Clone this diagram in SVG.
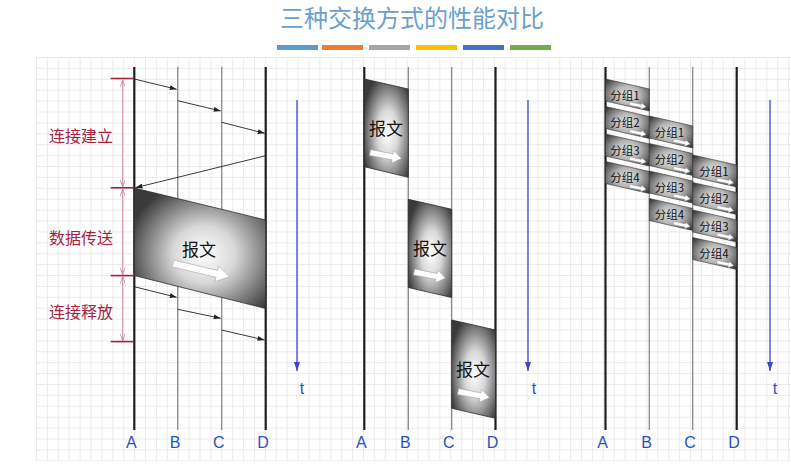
<svg xmlns="http://www.w3.org/2000/svg" width="791" height="468" viewBox="0 0 791 468">
<style>
.cjk{font-family:"Noto Sans CJK SC","Noto Sans",sans-serif}
.lat{font-family:"Liberation Sans","DejaVu Sans",sans-serif}
.red{fill:#a3233f;font-size:16px}
.lbl{fill:#2a4fc4;font-size:16px;text-anchor:middle}
.thick{stroke:#1e1e1e;stroke-width:2.2}
.thin{stroke:#8a8a8a;stroke-width:1.3}
.arr{stroke:#222;stroke-width:0.9;fill:none;marker-end:url(#ah)}
.brk{stroke:#cf8b9a;stroke-width:1;marker-start:url(#rh);marker-end:url(#rh)}
.tick{stroke:#a3233f;stroke-width:1.6}
.tax{stroke:#3f45c8;stroke-width:1.3;marker-end:url(#bh)}
.msg{fill:url(#rg);stroke:#2c2c2c;stroke-width:0.8}
.pkt{fill:url(#rg2);stroke:#333;stroke-width:0.6}
.wa{fill:#fff;stroke:#9a9a9a;stroke-width:0.5}
.mt{font-size:17px;fill:#111;text-anchor:middle}
.pt{font-size:11.5px;fill:#111;text-anchor:middle}
</style>
<defs>
<pattern id="grid" x="36" y="57" width="10.9" height="10.9" patternUnits="userSpaceOnUse">
<path d="M0,0.5 H10.9 M0.5,0 V10.9" stroke="#ebebeb" stroke-width="1" fill="none"/>
</pattern>
<radialGradient id="rg" cx="0.55" cy="0.55" r="0.62" fx="0.52" fy="0.55">
<stop offset="0" stop-color="#ffffff"/>
<stop offset="0.38" stop-color="#d8d8d8"/>
<stop offset="1" stop-color="#3a3a3a"/>
</radialGradient>
<radialGradient id="rg2" cx="0.5" cy="0.5" r="0.65">
<stop offset="0" stop-color="#e8e8e8"/>
<stop offset="0.45" stop-color="#b4b4b4"/>
<stop offset="1" stop-color="#3c3c3c"/>
</radialGradient>
<marker id="ah" viewBox="0 0 10 10" refX="10" refY="5" markerWidth="7" markerHeight="5" markerUnits="userSpaceOnUse" orient="auto" preserveAspectRatio="none">
<path d="M0,0 L10,5 L0,10 Z" fill="#222"/>
</marker>
<marker id="rh" viewBox="0 0 10 10" refX="10" refY="5" markerWidth="7" markerHeight="5" markerUnits="userSpaceOnUse" orient="auto-start-reverse" preserveAspectRatio="none">
<path d="M0,0 L10,5 L0,10" fill="none" stroke="#cf8b9a" stroke-width="1.5"/>
</marker>
<marker id="bh" viewBox="0 0 10 10" refX="10" refY="5" markerWidth="9" markerHeight="6" markerUnits="userSpaceOnUse" orient="auto" preserveAspectRatio="none">
<path d="M0,0 L10,5 L0,10 Z" fill="#3f45c8"/>
</marker>
<path id="bigArrow" d="M0,-3.5 H45 V-8 L58,0 L45,8 V3.5 H0 Z"/>
<path id="midArrow" d="M0,-3 H23 V-6.5 L32,0 L23,6.5 V3 H0 Z"/>
<path id="smArrow" d="M0,-1.6 H12 V-3.2 L17,0 L12,3.2 V1.6 H0 Z"/>
</defs>

<rect width="791" height="468" fill="#ffffff"/>
<rect x="36" y="57" width="755" height="404" fill="url(#grid)"/>

<g id="title">
<text x="412" y="27" class="cjk" font-size="24" fill="#6a9fcc" text-anchor="middle">三种交换方式的性能对比</text>
</g>
<g id="legend-bars">
<rect x="277" y="45" width="41" height="5" fill="#5b9bd5"/>
<rect x="322" y="45" width="41" height="5" fill="#ed7d31"/>
<rect x="369" y="45" width="41" height="5" fill="#a5a5a5"/>
<rect x="416" y="45" width="41" height="5" fill="#ffc000"/>
<rect x="463" y="45" width="41" height="5" fill="#4472c4"/>
<rect x="510" y="45" width="41" height="5" fill="#70ad47"/>
</g>

<!-- Circuit switching panel -->
<g id="circuit-panel">
<g id="c-A"><line x1="134.3" y1="67" x2="134.3" y2="430" class="thick"/><text x="131.3" y="448" class="lat lbl">A</text></g>
<g id="c-B"><line x1="177.7" y1="67" x2="177.7" y2="430" class="thin"/><text x="175" y="448" class="lat lbl">B</text></g>
<g id="c-C"><line x1="221.7" y1="67" x2="221.7" y2="430" class="thin"/><text x="218.7" y="448" class="lat lbl">C</text></g>
<g id="c-D"><line x1="265.7" y1="67" x2="265.7" y2="430" class="thick" stroke-width="2.5"/><text x="263" y="448" class="lat lbl">D</text></g>
<g id="c-message">
<polygon points="134.3,188 265.7,220 265.7,308.5 134.3,275.5" class="msg"/>
<text x="199" y="256" class="cjk mt">报文</text>
<use href="#bigArrow" transform="translate(173,263.5) rotate(13.3)" class="wa"/>
</g>
<g id="c-labels">
<text x="49" y="142" class="cjk red">连接建立</text>
<text x="49" y="244" class="cjk red">数据传送</text>
<text x="49" y="318" class="cjk red">连接释放</text>
</g>
<g id="c-time"><line x1="297" y1="100" x2="297" y2="371" class="tax"/><text x="302" y="394" class="lat lbl">t</text></g>
</g>

<g id="connectors">
<line x1="134.3" y1="79" x2="176.7" y2="89.3" class="arr"/>
<line x1="177.7" y1="100.7" x2="220.7" y2="111" class="arr"/>
<line x1="221.7" y1="122.3" x2="264.7" y2="133.3" class="arr"/>
<line x1="265.7" y1="155.7" x2="135.5" y2="187.7" class="arr"/>
<line x1="134.3" y1="286.7" x2="176.7" y2="297.3" class="arr"/>
<line x1="177.7" y1="309.3" x2="220.7" y2="318.3" class="arr"/>
<line x1="221.7" y1="330" x2="264.5" y2="340" class="arr"/>
<line x1="122.7" y1="80" x2="122.7" y2="187" class="brk"/>
<line x1="122.7" y1="189" x2="122.7" y2="274.5" class="brk"/>
<line x1="122.7" y1="276.5" x2="122.7" y2="340.7" class="brk"/>
<line x1="110.7" y1="78.5" x2="133.5" y2="78.5" class="tick"/>
<line x1="110.7" y1="187.8" x2="133.5" y2="187.8" class="tick"/>
<line x1="110.7" y1="275.6" x2="133.5" y2="275.6" class="tick"/>
<line x1="110.7" y1="341.6" x2="133.5" y2="341.6" class="tick"/>
</g>

<!-- Message switching panel -->
<g id="message-panel">
<g id="m-A"><line x1="364.3" y1="67" x2="364.3" y2="430" class="thick"/><text x="361.3" y="448" class="lat lbl">A</text></g>
<g id="m-B"><line x1="408.3" y1="67" x2="408.3" y2="430" class="thin"/><text x="405.3" y="448" class="lat lbl">B</text></g>
<g id="m-C"><line x1="451.7" y1="67" x2="451.7" y2="430" class="thin"/><text x="448.7" y="448" class="lat lbl">C</text></g>
<g id="m-D"><line x1="495.5" y1="67" x2="495.5" y2="430" class="thick" stroke-width="2.5"/><text x="492.5" y="448" class="lat lbl">D</text></g>
<g id="m-msg1">
<polygon points="364.3,79 408.3,89 408.3,177.3 364.3,166.7" class="msg"/>
<text x="386" y="135" class="cjk mt">报文</text>
<use href="#midArrow" transform="translate(370,152.5) rotate(11)" class="wa"/>
</g>
<g id="m-msg2">
<polygon points="408.3,199.3 451.7,209.3 451.7,297.5 408.3,287.5" class="msg"/>
<text x="430" y="255" class="cjk mt">报文</text>
<use href="#midArrow" transform="translate(414,272) rotate(11)" class="wa"/>
</g>
<g id="m-msg3">
<polygon points="451.7,320 495.5,330 495.5,418.3 451.7,408.3" class="msg"/>
<text x="473" y="376" class="cjk mt">报文</text>
<use href="#midArrow" transform="translate(458,391.5) rotate(11)" class="wa"/>
</g>
<g id="m-time"><line x1="528" y1="100" x2="528" y2="371" class="tax"/><text x="534" y="394" class="lat lbl">t</text></g>
</g>

<!-- Packet switching panel -->
<g id="packet-panel">
<g id="p-A"><line x1="605.5" y1="67" x2="605.5" y2="430" class="thick"/><text x="602.5" y="448" class="lat lbl">A</text></g>
<g id="p-B"><line x1="649.3" y1="67" x2="649.3" y2="430" class="thin"/><text x="646.5" y="448" class="lat lbl">B</text></g>
<g id="p-C"><line x1="692.7" y1="67" x2="692.7" y2="430" class="thin"/><text x="690" y="448" class="lat lbl">C</text></g>
<g id="p-D"><line x1="736.7" y1="67" x2="736.7" y2="430" class="thick" stroke-width="2.5"/><text x="734" y="448" class="lat lbl">D</text></g>

<g id="p-AB-1"><polygon points="605.5,79 649.3,89 649.3,111 605.5,101" class="pkt"/><text x="625" y="99.5" class="cjk pt">分组1</text><use href="#smArrow" transform="translate(629.5,103.5) rotate(12)" class="wa"/></g>
<g id="p-AB-2"><polygon points="605.5,106.5 649.3,116.5 649.3,138.5 605.5,128.5" class="pkt"/><text x="625" y="127" class="cjk pt">分组2</text><use href="#smArrow" transform="translate(629.5,131) rotate(12)" class="wa"/></g>
<g id="p-AB-3"><polygon points="605.5,134 649.3,144 649.3,166 605.5,156" class="pkt"/><text x="625" y="154.5" class="cjk pt">分组3</text><use href="#smArrow" transform="translate(629.5,158.5) rotate(12)" class="wa"/></g>
<g id="p-AB-4"><polygon points="605.5,161.5 649.3,171.5 649.3,193.5 605.5,183.5" class="pkt"/><text x="625" y="182" class="cjk pt">分组4</text><use href="#smArrow" transform="translate(629.5,186) rotate(12)" class="wa"/></g>

<g id="p-BC-1"><polygon points="649.3,116 692.7,126 692.7,148 649.3,138" class="pkt"/><text x="669.5" y="136.5" class="cjk pt">分组1</text><use href="#smArrow" transform="translate(673.5,140.5) rotate(12)" class="wa"/></g>
<g id="p-BC-2"><polygon points="649.3,143.5 692.7,153.5 692.7,175.5 649.3,165.5" class="pkt"/><text x="669.5" y="164" class="cjk pt">分组2</text><use href="#smArrow" transform="translate(673.5,168) rotate(12)" class="wa"/></g>
<g id="p-BC-3"><polygon points="649.3,171 692.7,181 692.7,203 649.3,193" class="pkt"/><text x="669.5" y="191.5" class="cjk pt">分组3</text><use href="#smArrow" transform="translate(673.5,195.5) rotate(12)" class="wa"/></g>
<g id="p-BC-4"><polygon points="649.3,198.5 692.7,208.5 692.7,230.5 649.3,220.5" class="pkt"/><text x="669.5" y="219" class="cjk pt">分组4</text><use href="#smArrow" transform="translate(673.5,223) rotate(12)" class="wa"/></g>

<g id="p-CD-1"><polygon points="692.7,155 736.7,165 736.7,187 692.7,177" class="pkt"/><text x="714" y="175.5" class="cjk pt">分组1</text><use href="#smArrow" transform="translate(717,179.5) rotate(12)" class="wa"/></g>
<g id="p-CD-2"><polygon points="692.7,182.5 736.7,192.5 736.7,214.5 692.7,204.5" class="pkt"/><text x="714" y="203" class="cjk pt">分组2</text><use href="#smArrow" transform="translate(717,207) rotate(12)" class="wa"/></g>
<g id="p-CD-3"><polygon points="692.7,210 736.7,220 736.7,242 692.7,232" class="pkt"/><text x="714" y="230.5" class="cjk pt">分组3</text><use href="#smArrow" transform="translate(717,234.5) rotate(12)" class="wa"/></g>
<g id="p-CD-4"><polygon points="692.7,237.5 736.7,247.5 736.7,269.5 692.7,259.5" class="pkt"/><text x="714" y="258" class="cjk pt">分组4</text><use href="#smArrow" transform="translate(717,262) rotate(12)" class="wa"/></g>

<g id="p-time"><line x1="770" y1="100" x2="770" y2="371" class="tax"/><text x="775" y="394" class="lat lbl">t</text></g>
</g>
</svg>
